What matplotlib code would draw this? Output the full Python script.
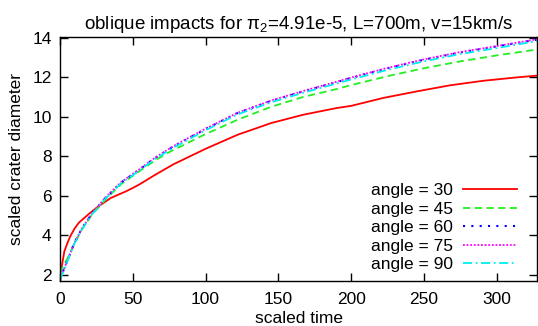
import matplotlib
matplotlib.use("Agg")
import matplotlib.pyplot as plt

plt.rcParams['font.family'] = ['Liberation Sans', 'DejaVu Sans']
plt.rcParams['mathtext.fontset'] = 'custom'
plt.rcParams['mathtext.rm'] = 'Liberation Sans'
plt.rcParams['mathtext.it'] = 'Liberation Sans'

# scaled time / scaled crater diameter
t_30 = [0, 1, 3, 5, 7, 10, 13, 20, 26, 35, 45, 50, 55, 65, 78, 100, 122, 145,
        167, 190, 200, 222, 245, 268, 291, 314, 328]
d_30 = [2.0, 2.35, 3.2, 3.6, 3.95, 4.35, 4.65, 5.1, 5.45, 5.9, 6.22, 6.4, 6.6,
        7.05, 7.6, 8.38, 9.09, 9.68, 10.1, 10.44, 10.55, 10.95, 11.28, 11.59,
        11.82, 11.99, 12.08]

t_45 = [0, 2, 6, 10, 15, 22, 31, 42, 54, 65, 76, 99, 122, 145, 167, 190, 200,
        225, 250, 275, 300, 328]
d_45 = [2.1, 2.45, 2.95, 3.6, 4.3, 5.05, 5.8, 6.6, 7.22, 7.78, 8.25, 9.09, 9.85,
        10.5, 11.0, 11.4, 11.6, 12.05, 12.45, 12.8, 13.1, 13.4]

t_60 = [0, 3, 6, 10, 15, 22, 31, 42, 54, 65, 78, 100, 122, 145, 167, 190, 200,
        225, 250, 275, 300, 328]
d_60 = [1.8, 2.35, 2.9, 3.65, 4.35, 5.12, 5.88, 6.68, 7.3, 7.9, 8.5, 9.38,
        10.19, 10.8, 11.28, 11.75, 11.96, 12.45, 12.88, 13.25, 13.55, 13.9]

t_75 = [0, 3, 6, 10, 15, 22, 31, 42, 54, 65, 78, 100, 122, 145, 167, 190, 200,
        225, 250, 275, 300, 328]
d_75 = [1.8, 2.35, 2.9, 3.65, 4.35, 5.12, 5.9, 6.7, 7.32, 7.92, 8.52, 9.4,
        10.2, 10.82, 11.3, 11.77, 11.98, 12.47, 12.9, 13.27, 13.57, 13.92]

t_90 = [0, 3, 6, 10, 15, 22, 31, 42, 54, 65, 78, 100, 122, 145, 167, 190, 200,
        225, 250, 275, 300, 328]
d_90 = [1.75, 2.3, 2.85, 3.6, 4.3, 5.07, 5.84, 6.64, 7.25, 7.85, 8.44, 9.32,
        10.12, 10.73, 11.21, 11.68, 11.88, 12.37, 12.8, 13.17, 13.47, 13.83]

labels = ["angle = 30", "angle = 45", "angle = 60", "angle = 75", "angle = 90"]

fig = plt.figure(figsize=(5.38, 3.26), dpi=100)
ax = fig.add_axes([0.1115, 0.138, 0.8875, 0.7485])

ax.plot(t_30, d_30, color="#ff0000", lw=1.3, ls="-", label=labels[0])
ax.plot(t_45, d_45, color="#22ee22", lw=1.3, ls=(0, (4, 2.5)), label=labels[1])
ax.plot(t_60, d_60, color="#0000ff", lw=1.5, ls=(0, (1, 3)), label=labels[2])
ax.plot(t_75, d_75, color="#ff00ff", lw=1.3, ls=(0, (1, 1)), label=labels[3])
ax.plot(t_90, d_90, color="#00eeee", lw=1.3, ls=(0, (5, 2, 1, 2)), label=labels[4])

ax.set_xlim(0, 328)
ax.set_ylim(1.7, 14.03)
ax.set_xticks(range(0, 301, 50))
ax.set_yticks(range(2, 15, 2))
ax.tick_params(direction="in", length=6, width=1, top=True, right=True,
               labelsize=12.5, pad=6)
ax.tick_params(axis="x", pad=8)
for s in ax.spines.values():
    s.set_linewidth(1)

ax.set_xlabel("scaled time", fontsize=12.5, labelpad=3)
ax.set_ylabel("scaled crater diameter", fontsize=12.5, labelpad=6)
ax.set_title(r"oblique impacts for $\pi_2$=4.91e-5, L=700m, v=15km/s",
             fontsize=13.5, pad=6)

ax.legend(loc="lower right", frameon=False, markerfirst=False, fontsize=12.5,
          handlelength=3.1, labelspacing=0.2, handletextpad=0.6,
          borderpad=0, borderaxespad=0, bbox_to_anchor=(0.957, 0.035))

fig.savefig("out.png", dpi=100)
